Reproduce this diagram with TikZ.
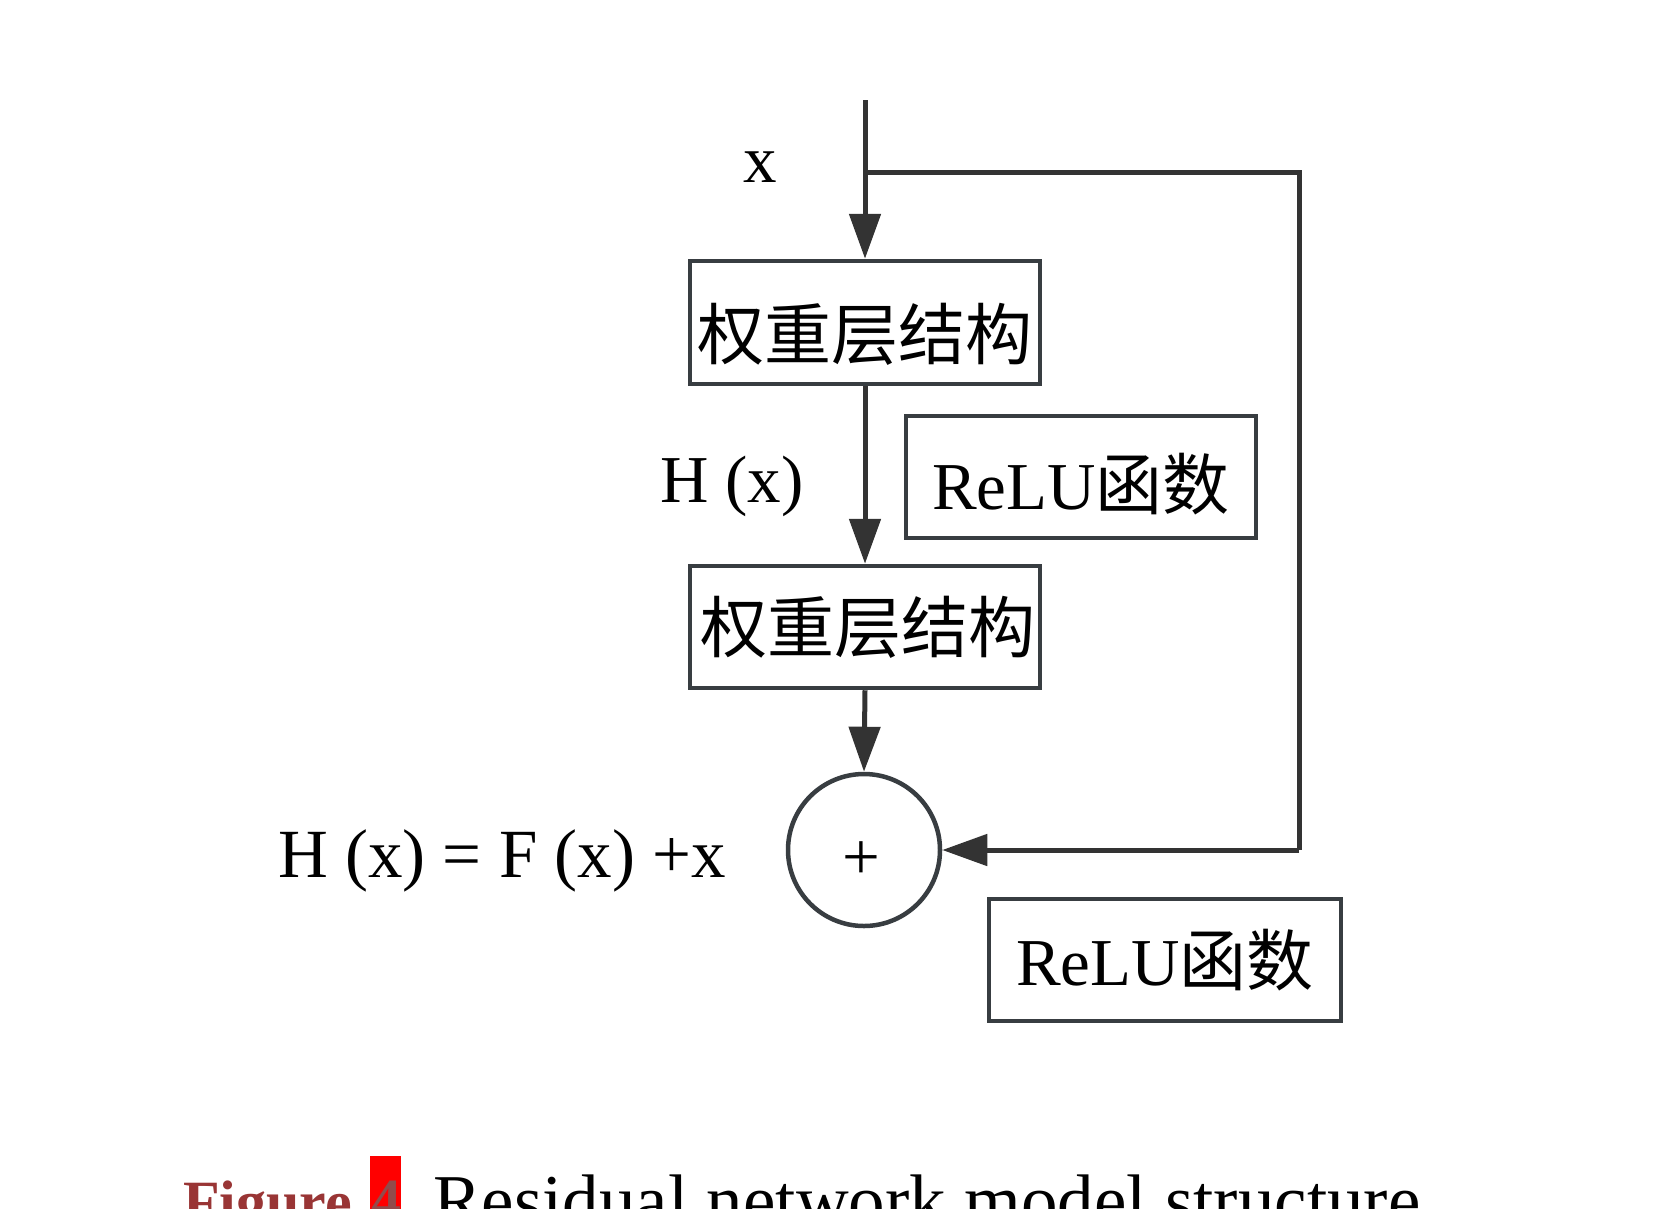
\documentclass[tikz,border=0pt]{standalone}
\usepackage{fontspec}
\setmainfont{Liberation Serif}
\newfontfamily\cjk{Noto Sans CJK SC}
\usetikzlibrary{arrows.meta}
\definecolor{linec}{HTML}{333333}
\definecolor{boxc}{HTML}{383D41}
\definecolor{figred}{HTML}{993535}
\begin{document}
\begin{tikzpicture}[x=1pt,y=-1pt,
  conn/.style={draw=linec, line width=5pt, -{Triangle[length=45pt,width=31pt]}},
  plain/.style={draw=linec, line width=5pt},
  wbox/.style={draw=boxc, line width=4.5pt, rectangle, inner sep=0pt, minimum width=350pt, minimum height=122pt, font=\fontsize{67}{80}\selectfont},
  sumc/.style={draw=boxc, line width=4.5pt, circle, inner sep=0pt, minimum size=152pt, font=\fontsize{67}{80}\selectfont},
  lbl/.style={inner sep=0pt, font=\fontsize{67}{80}\selectfont, text=black},
]
\useasboundingbox (0,0) rectangle (1654,1208);
\clip (0,0) rectangle (1654,1208);
\fill[white] (0,0) rectangle (1654,1208);

% boxes
\node[wbox, minimum height=123pt, text height=74pt, text depth=0pt] (w1) at (865,322.5) {\cjk 权重层结构};
\node[wbox, text height=51pt, text depth=0pt] (w2) at (865,627) {\hspace*{6pt}\cjk 权重层结构};
\node[wbox, text height=64pt, text depth=0pt] (r1) at (1081,477) {ReLU{\cjk 函数}};
\node[wbox, minimum width=352pt, text height=50pt, text depth=0pt] (r2) at (1165,960) {ReLU{\cjk 函数}};
\node[sumc] (sum) at (864,850) {};
\node[lbl] (plus) at (861,861) {+};

% coordinates
\coordinate (top) at (865,100);
\coordinate (branch) at (865,172);
\coordinate (rbot) at (1299,850);

% connectors
\draw[conn] (top) -- (w1.north);
\draw[plain] (branch) -| (rbot);
\draw[conn] (rbot) -- (sum.east);
\draw[conn] (w1.south) -- (w2.north);
\draw[conn] (w2.south) -- (sum.north);

% labels
\node[lbl, anchor=base] (lx) at (760,182) {x};
\node[lbl, anchor=base] (lh) at (732,502) {H (x)};
\node[lbl, anchor=base, font=\fontsize{69}{80}\selectfont] (lhf) at (502,877) {H (x) = F (x) +x};

% caption (cut off at bottom, as in the reference)
\fill[red] (370,1156) rectangle (401,1240);
\node[inner sep=0pt, anchor=base west, font=\bfseries\fontsize{60}{70}\selectfont, text=figred] (fig) at (183,1222) {Figure};
\node[inner sep=0pt, anchor=base, font=\bfseries\fontsize{60}{70}\selectfont, text=figred!70!gray] (num) at (386,1220) {4};
\node[inner sep=0pt, anchor=base west, font=\fontsize{73}{85}\selectfont, text=black] (cap) at (433,1225) {Residual network model structure};
\end{tikzpicture}
\end{document}
